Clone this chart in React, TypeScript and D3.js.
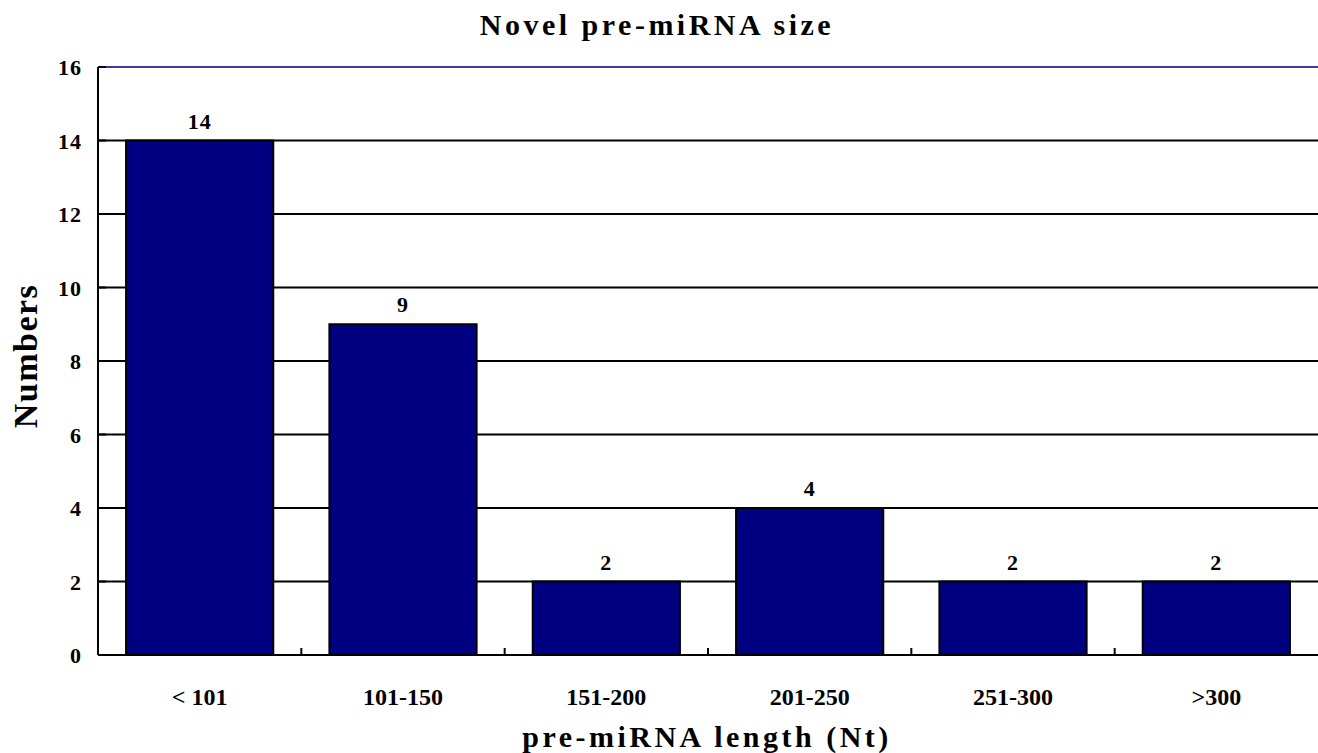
import React from "react";
import * as d3 from "d3";

const categories = ["< 101", "101-150", "151-200", "201-250", "251-300", ">300"];
const values = [14, 9, 2, 4, 2, 2];
const yTicks = [0, 2, 4, 6, 8, 10, 12, 14, 16];

const W = 1318;
const H = 753;
const left = 98;
const right = 1318;
const top = 67;
const bottom = 655;
const font = "'Liberation Serif', 'Times New Roman', serif";

export default function App() {
  const x = d3.scaleBand<string>().domain(categories).range([left, right]).paddingInner(0.276).paddingOuter(0.138);
  const band = d3.scaleBand<string>().domain(categories).range([left, right]).padding(0);
  const y = d3.scaleLinear().domain([0, 16]).range([bottom, top]);

  return (
    <svg width={W} height={H} style={{ position: "absolute", left: 0, top: 0, background: "#fff" }}>
      <text x={657} y={35} textAnchor="middle" fontFamily={font} fontWeight="bold" fontSize={30} letterSpacing={3.5}>
        Novel pre-miRNA size
      </text>
      {yTicks.map((t) => (
        <g key={t}>
          {t > 0 && (
            <line
              x1={left}
              x2={right}
              y1={y(t)}
              y2={y(t)}
              stroke={t === 16 ? "#3a3aa0" : "#000"}
              strokeWidth={2}
            />
          )}
          <line x1={left} x2={left + 8} y1={y(t)} y2={y(t)} stroke="#000" strokeWidth={2} />
          <text x={82} y={y(t) + 8} textAnchor="end" fontFamily={font} fontWeight="bold" fontSize={22} letterSpacing={1}>
            {t}
          </text>
        </g>
      ))}
      {categories.map((c, i) => (
        <g key={c}>
          <rect
            x={x(c)}
            y={y(values[i])}
            width={x.bandwidth()}
            height={bottom - y(values[i])}
            fill="#000080"
            stroke="#000"
            strokeWidth={2}
          />
          <text
            x={(x(c) as number) + x.bandwidth() / 2}
            y={y(values[i]) - 12}
            textAnchor="middle"
            fontFamily={font}
            fontWeight="bold"
            fontSize={22}
            letterSpacing={1}
          >
            {values[i]}
          </text>
          <text
            x={(band(c) as number) + band.bandwidth() / 2}
            y={705}
            textAnchor="middle"
            fontFamily={font}
            fontWeight="bold"
            fontSize={24}
          >
            {c}
          </text>
          {i > 0 && (
            <line x1={band(c)} x2={band(c)} y1={bottom} y2={bottom - 7} stroke="#000" strokeWidth={2} />
          )}
        </g>
      ))}
      <line x1={left} x2={left} y1={top} y2={bottom} stroke="#000" strokeWidth={2} />
      <line x1={left} x2={right} y1={bottom} y2={bottom} stroke="#000" strokeWidth={2} />
      <text x={707} y={747} textAnchor="middle" fontFamily={font} fontWeight="bold" fontSize={30} letterSpacing={3.5}>
        pre-miRNA length (Nt)
      </text>
      <text
        transform={`translate(37, 356) rotate(-90)`}
        textAnchor="middle"
        fontFamily={font}
        fontWeight="bold"
        fontSize={34}
        letterSpacing={1.5}
      >
        Numbers
      </text>
    </svg>
  );
}
